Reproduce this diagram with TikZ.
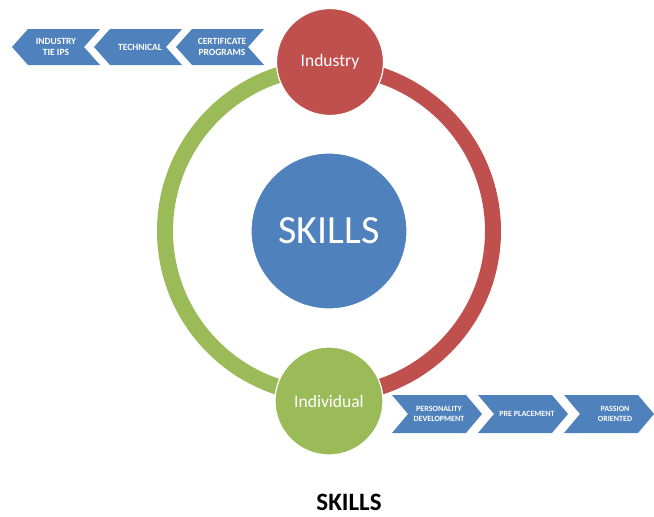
\documentclass[tikz,border=0pt]{standalone}
\usepackage{fontspec}
\setmainfont{Carlito}
\definecolor{ringred}{HTML}{C0504D}
\definecolor{ringgreen}{HTML}{9BBB59}
\definecolor{chevblue}{HTML}{4F81BD}
\begin{document}
\begin{tikzpicture}[x=1pt,y=-1pt,
  ring/.style={line width=16pt},
  bigdisc/.style={circle,inner sep=0pt,minimum size=#1,draw=white,line width=1.2pt,text=white},
  chevtextL/.style={text=white,font=\fontsize{9.5}{11.5}\selectfont\bfseries,align=center,inner sep=0pt},
  chevtextR/.style={text=white,font=\fontsize{8}{10}\selectfont\bfseries,align=center,inner sep=0pt},
  lchev/.pic={\fill[chevblue] (0,0) -- (16,-18) -- (88,-18) -- (72,0) -- (88,18) -- (16,18) -- cycle;},
  rchev/.pic={\fill[chevblue] (0,-19) -- (74,-19) -- (90,0) -- (74,19) -- (0,19) -- (16,0) -- cycle;}
]
\useasboundingbox (0,0) rectangle (654,517);
\coordinate (ringc) at (329,231);
% ring
\draw[ring,ringgreen] (329,67) arc[start angle=270,end angle=90,radius=164];
\draw[ring,ringred] (329,67) arc[start angle=270,end angle=450,radius=164];
% circles
\node[bigdisc=156pt,fill=chevblue,font=\fontsize{40}{44}\selectfont] (skills) at (ringc) {SKILLS};
\node[bigdisc=107pt,fill=ringred,font=\fontsize{17.5}{20}\selectfont] (industry) at (330,62) {Industry};
\node[bigdisc=108pt,fill=ringgreen,font=\fontsize{17.5}{20}\selectfont] (individual) at (329,401) {Individual};
% left chevrons
\pic at (12,47) {lchev};
\pic at (94,47) {lchev};
\pic at (176,47) {lchev};
\node[chevtextL] (c1) at (56,47) {INDUSTRY\\TIE IPS};
\node[chevtextL] (c2) at (140,47) {TECHNICAL};
\node[chevtextL] (c3) at (222,47) {CERTIFICATE\\PROGRAMS};
% right chevrons
\pic at (392,414) {rchev};
\pic at (478,414) {rchev};
\pic at (564,414) {rchev};
\node[chevtextR] (r1) at (439,414) {PERSONALITY\\DEVELOPMENT};
\node[chevtextR] (r2) at (527,414) {PRE PLACEMENT};
\node[chevtextR] (r3) at (615,414) {PASSION\\ORIENTED};
% caption
\node[font=\fontsize{25}{28}\selectfont\bfseries] (caption) at (349,502) {SKILLS};
\end{tikzpicture}
\end{document}
